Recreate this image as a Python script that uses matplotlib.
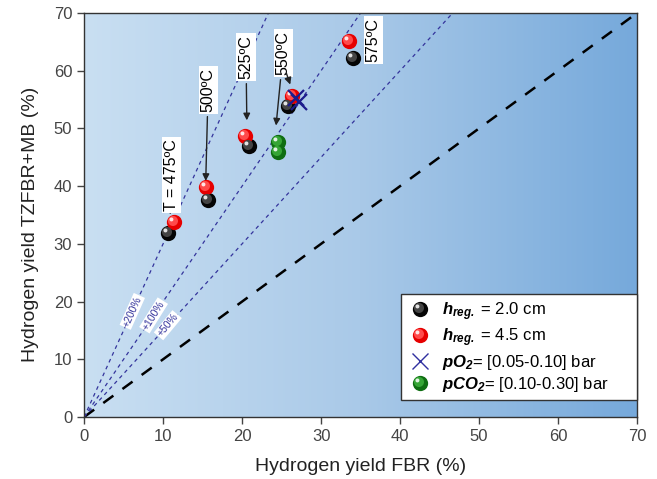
import matplotlib
matplotlib.use("Agg")
import matplotlib.pyplot as plt
import numpy as np
from matplotlib.path import Path
from matplotlib.markers import MarkerStyle
from matplotlib.lines import Line2D
from matplotlib.colors import LinearSegmentedColormap

plt.rcParams['font.family'] = ['Liberation Sans', 'DejaVu Sans']
plt.rcParams['mathtext.fontset'] = 'custom'
plt.rcParams['mathtext.rm'] = 'Liberation Sans'
plt.rcParams['mathtext.it'] = 'Liberation Sans:italic'
plt.rcParams['mathtext.bf'] = 'Liberation Sans:italic:bold'

# data
temps = ['T = 475ºC', '500ºC', '525ºC', '550ºC', '575ºC']
fbr_h20 = [10.6, 15.7, 20.9, 25.8, 34.1]
tz_h20 = [31.9, 37.6, 47.0, 53.9, 62.2]
fbr_h45 = [11.4, 15.4, 20.4, 26.3, 33.5]
tz_h45 = [33.8, 39.9, 48.7, 55.6, 65.2]
fbr_o2 = [26.8, 27.2]
tz_o2 = [55.3, 54.6]
fbr_co2 = [24.6, 24.6]
tz_co2 = [47.6, 46.0]
ref_factors = [1.0, 1.5, 2.0, 3.0]
ref_labels = ['+50%', '+100%', '+200%']

fig = plt.figure(figsize=(6.57, 4.79), dpi=100)
ax = fig.add_axes([0.128, 0.1294, 0.8416, 0.8435])

# background gradient
cmap = LinearSegmentedColormap.from_list('bg', ['#c9dff2', '#a9c9e8', '#76a9db'])
grad = np.linspace(0, 1, 256).reshape(1, -1)
ax.imshow(grad, extent=[0, 70, 0, 70], aspect='auto', cmap=cmap, zorder=0)

# reference lines
xx = np.array([0, 70])
ax.plot(xx, xx * ref_factors[0], color='black', lw=1.8, dashes=(5, 4.5), zorder=1)
for f in ref_factors[1:]:
    ax.plot(xx, xx * f, color='#34349c', lw=0.9, dashes=(3, 3), zorder=1)

ref_pos = [(10.6, 15.9), (8.8, 17.6), (6.1, 18.3)]
ref_rot = [50, 58, 66]
for lab, (px, py), rot in zip(ref_labels, ref_pos, ref_rot):
    ax.text(px, py, lab, fontsize=7.5, color='#34349c', rotation=rot,
            ha='center', va='center', zorder=3,
            bbox=dict(facecolor='white', edgecolor='none', pad=0.8))


# sphere-like markers: highlight circles offset to the upper left,
# with an anchor point so the marker is not rescaled
def hl_marker(cx, cy, r):
    circ = Path.circle(center=(cx, cy), radius=r)
    anchor = Path([(0.5, -0.5)], [Path.MOVETO])
    return MarkerStyle(Path.make_compound_path(anchor, circ))


hl1 = hl_marker(-0.1, 0.1, 0.33)
hl2 = hl_marker(-0.2, 0.2, 0.13)


def spheres(x, y, base, light, ms=11):
    ax.plot(x, y, 'o', ms=ms, color=base, mec='none', zorder=5)
    ax.plot(x, y, ls='none', marker=hl1, ms=ms, color=light, mec='none', zorder=6)
    ax.plot(x, y, ls='none', marker=hl2, ms=ms, color='white', mec='none', alpha=0.85, zorder=7)


spheres(fbr_h20, tz_h20, '#050505', '#444444')
spheres(fbr_co2, tz_co2, '#0f6e12', '#35a535')
spheres(fbr_h45, tz_h45, '#e60000', '#ff4a4a')
ax.plot(fbr_o2, tz_o2, 'x', ms=12, mew=1.6, color='#1c1c8c', zorder=8)

# temperature annotations
ann_text = [(11.1, 41.9), (15.7, 56.7), (20.5, 62.4), (25.2, 63.1), (36.6, 65.3)]
ann_tip = [(10.9, 35.2), (15.4, 40.9), (20.6, 51.4), (24.3, 50.5), None]
for lab, (tx, ty), tip in zip(temps, ann_text, ann_tip):
    bb = dict(facecolor='white', edgecolor='none', pad=1.5)
    if tip is None:
        ax.text(tx, ty, lab, rotation=90, fontsize=11.5, ha='center', va='center',
                bbox=bb, zorder=9)
    else:
        ax.annotate(lab, xy=tip, xytext=(tx, ty), rotation=90, fontsize=11.5,
                    ha='center', va='center', bbox=bb, zorder=9,
                    arrowprops=dict(arrowstyle='-|>', color='#222222', lw=1,
                                    mutation_scale=10, shrinkA=2, shrinkB=0))
ax.annotate('', xy=(26.1, 57.6), xytext=(25.6, 59.6), zorder=9,
            arrowprops=dict(arrowstyle='-|>', color='#222222', lw=1,
                            mutation_scale=10, shrinkA=0, shrinkB=0))

ax.set_xlim(0, 70)
ax.set_ylim(0, 70)
ax.set_xticks(range(0, 71, 10))
ax.set_yticks(range(0, 71, 10))
ax.tick_params(direction='out', length=5, width=1, labelsize=12,
               labelcolor='#444444', color='#444444')
for s in ax.spines.values():
    s.set_color('#333333')
    s.set_linewidth(1)
ax.set_xlabel('Hydrogen yield FBR (%)', fontsize=14, color='#222222', labelpad=10)
ax.set_ylabel('Hydrogen yield TZFBR+MB (%)', fontsize=14, color='#222222')
ax.yaxis.set_label_coords(-0.082, 0.478)


def leg_sphere(base, light):
    return (Line2D([], [], ls='none', marker='o', ms=11, color=base, mec='none'),
            Line2D([], [], ls='none', marker=hl1, ms=11, color=light, mec='none'),
            Line2D([], [], ls='none', marker=hl2, ms=11, color='white', mec='none', alpha=0.85))


handles = [leg_sphere('#050505', '#444444'),
           leg_sphere('#e60000', '#ff4a4a'),
           Line2D([], [], ls='none', marker='x', ms=12, mew=1, color='#3030a0'),
           leg_sphere('#0f6e12', '#35a535')]
labels = [r'$\mathbf{h}_{\mathbf{reg.}}$ = 2.0 cm',
          r'$\mathbf{h}_{\mathbf{reg.}}$ = 4.5 cm',
          r'$\mathbf{pO}_{\mathbf{2}}$= [0.05-0.10] bar',
          r'$\mathbf{pCO}_{\mathbf{2}}$= [0.10-0.30] bar']
leg = ax.legend(handles, labels, loc='upper left',
                bbox_to_anchor=(0.573, 0.049, 0.427, 0.255), mode='expand',
                borderaxespad=0, fontsize=12, fancybox=False, framealpha=1,
                edgecolor='#333333', handletextpad=0.5, labelspacing=0.22,
                borderpad=0.35, handlelength=1.6)
leg.get_frame().set_linewidth(1)
leg.set_zorder(10)

fig.savefig('out.png', dpi=100)
